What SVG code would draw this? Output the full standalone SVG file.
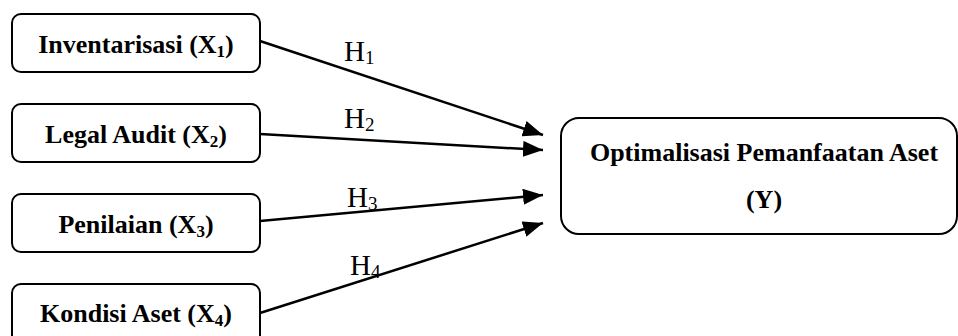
<svg xmlns="http://www.w3.org/2000/svg" width="958" height="336" viewBox="0 0 958 336">
  <style>
    .box { fill: #ffffff; stroke: #000000; stroke-width: 2; }
    .lbl { font-family: "Liberation Serif", "Times New Roman", serif; font-weight: bold; font-size: 26px; fill: #000000; text-anchor: middle; }
    .hyp { font-family: "Liberation Serif", "Times New Roman", serif; font-size: 29px; fill: #000000; }
    .sub { font-size: 17px; }
    .hsub { font-size: 19px; }
    .edge { stroke: #000000; stroke-width: 2.5; fill: none; marker-end: url(#head); }
  </style>
  <defs>
    <marker id="head" markerUnits="userSpaceOnUse" markerWidth="20" markerHeight="16" refX="20" refY="8" orient="auto">
      <path d="M0,0 L20,8 L0,16 z" fill="#000000"/>
    </marker>
  </defs>
  <rect width="958" height="336" fill="#ffffff"/>

  <g id="connectors">
    <line class="edge" x1="260" y1="41" x2="543" y2="135"/>
    <line class="edge" x1="260" y1="134" x2="543" y2="150"/>
    <line class="edge" x1="260" y1="221" x2="543" y2="195"/>
    <line class="edge" x1="260" y1="313" x2="543" y2="223"/>
    <text class="hyp" x="344" y="61">H<tspan class="hsub" dy="3">1</tspan></text>
    <text class="hyp" x="344" y="128">H<tspan class="hsub" dy="3">2</tspan></text>
    <text class="hyp" x="347" y="207">H<tspan class="hsub" dy="3">3</tspan></text>
    <text class="hyp" x="350" y="275">H<tspan class="hsub" dy="3">4</tspan></text>
  </g>

  <g id="x1">
    <rect class="box" x="12" y="14" width="248" height="58" rx="9"/>
    <text class="lbl" x="136" y="53">Inventarisasi (X<tspan class="sub" dy="4">1</tspan><tspan dy="-4">)</tspan></text>
  </g>
  <g id="x2">
    <rect class="box" x="12" y="104" width="248" height="58" rx="9"/>
    <text class="lbl" x="136" y="143">Legal Audit (X<tspan class="sub" dy="4">2</tspan><tspan dy="-4">)</tspan></text>
  </g>
  <g id="x3">
    <rect class="box" x="12" y="194" width="248" height="58" rx="9"/>
    <text class="lbl" x="136" y="233">Penilaian (X<tspan class="sub" dy="4">3</tspan><tspan dy="-4">)</tspan></text>
  </g>
  <g id="x4">
    <rect class="box" x="12" y="284" width="248" height="60" rx="9"/>
    <text class="lbl" x="136" y="322">Kondisi Aset (X<tspan class="sub" dy="4">4</tspan><tspan dy="-4">)</tspan></text>
  </g>

  <g id="y">
    <rect class="box" x="561" y="118" width="396" height="116" rx="18"/>
    <text class="lbl" x="764" y="161">Optimalisasi Pemanfaatan Aset</text>
    <text class="lbl" x="764" y="208">(Y)</text>
  </g>
</svg>
